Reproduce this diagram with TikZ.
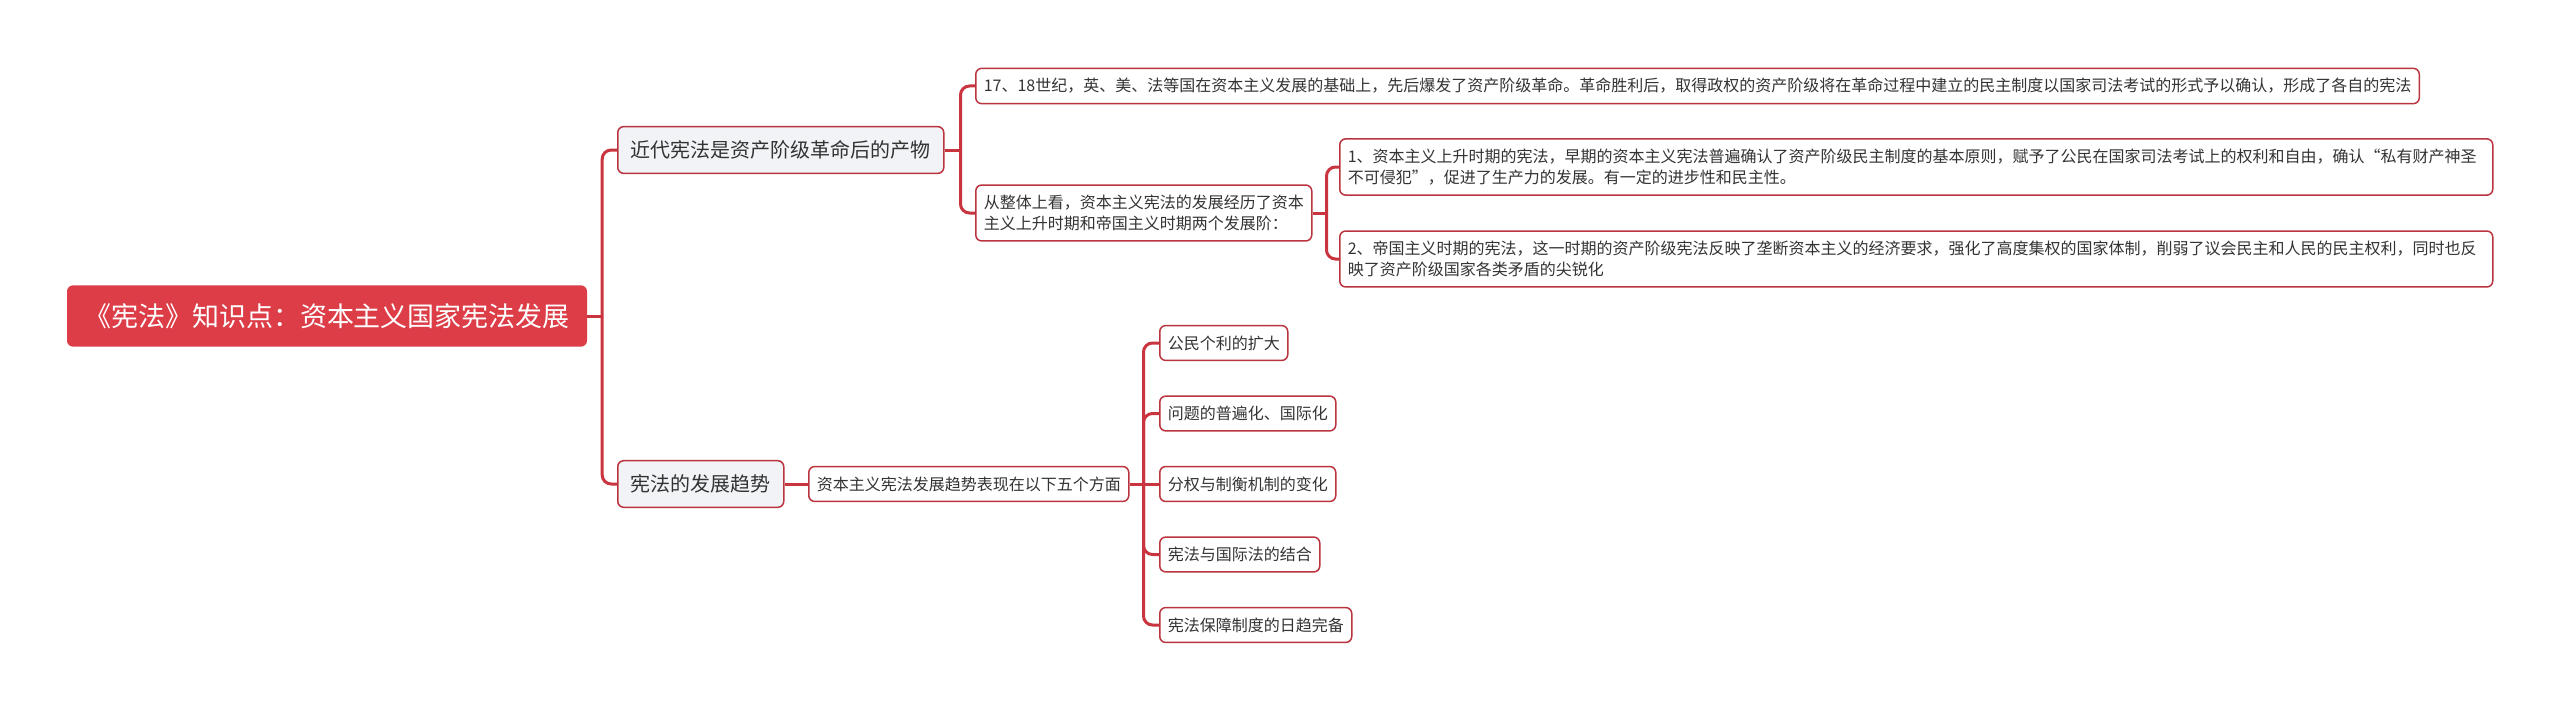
\documentclass[tikz,border=0pt]{standalone}
\usepackage{fontspec}
\setmainfont{Noto Sans CJK SC}
\usetikzlibrary{positioning,backgrounds}
\definecolor{mapred}{HTML}{DC3D47}
\definecolor{linkred}{HTML}{C9343F}
\definecolor{boxred}{HTML}{B9343E}
\definecolor{topicgray}{HTML}{F1F3F6}
\definecolor{inkgray}{HTML}{333333}
\begin{document}
\begin{tikzpicture}
[x=1pt,y=-1pt,node distance=70.5pt,on grid,
every node/.style={text=inkgray,font=\fontsize{16}{21}\selectfont},
central topic/.style={fill=mapred,text=white,rounded corners=6pt,inner xsep=17pt,inner ysep=18pt,
  font=\fontsize{27}{32}\selectfont},
main topic/.style={draw=boxred,line width=1.5pt,fill=topicgray,rounded corners=6pt,
  inner xsep=13pt,inner ysep=14pt,font=\fontsize{20}{24}\selectfont},
sub topic/.style={draw=boxred,line width=1.5pt,fill=white,rounded corners=6pt,
  inner xsep=8pt,inner ysep=10pt,align=left},
link/.style={draw=linkred,line width=3pt,rounded corners=9pt}]
\useasboundingbox (0,0) rectangle (2560,709);
\node [central topic] (root) at (327,316) {《宪法》知识点：资本主义国家宪法发展};
\node [main topic,anchor=west] (modern) at (617,150) {近代宪法是资产阶级革命后的产物};
\node [main topic,anchor=west] (trend) at (617,484) {宪法的发展趋势};
% first branch
\node [sub topic,anchor=west] (origin) at (975,86)
{17、18世纪，英、美、法等国在资本主义发展的基础上，先后爆发了资产阶级革命。革命胜利后，取得政权的资产阶级将在革命过程中建立的民主制度以国家司法考试的形式予以确认，形成了各自的宪法};
\node [sub topic,anchor=west] (stages) at (975,213)
{从整体上看，资本主义宪法的发展经历了资本\\主义上升时期和帝国主义时期两个发展阶：};
\node [sub topic,anchor=west,text width=1137pt] (rising) at (1339,167)
{1、资本主义上升时期的宪法，早期的资本主义宪法普遍确认了资产阶级民主制度的基本原则，赋予了公民在国家司法考试上的权利和自由，确认“私有财产神圣\\不可侵犯”，促进了生产力的发展。有一定的进步性和民主性。};
\node [sub topic,anchor=west,text width=1137pt] (imperial) at (1339,259)
{2、帝国主义时期的宪法，这一时期的资产阶级宪法反映了垄断资本主义的经济要求，强化了高度集权的国家体制，削弱了议会民主和人民的民主权利，同时也反\\映了资产阶级国家各类矛盾的尖锐化};
% second branch
\node [sub topic,anchor=west] (aspects) at (808,484) {资本主义宪法发展趋势表现在以下五个方面};
\node [sub topic,anchor=west] (rights) at (1159,343) {公民个利的扩大};
\node [sub topic] (global) [below=of rights.west,anchor=west] {问题的普遍化、国际化};
\node [sub topic] (powers) [below=of global.west,anchor=west] {分权与制衡机制的变化};
\node [sub topic] (intl) [below=of powers.west,anchor=west] {宪法与国际法的结合};
\node [sub topic] (review) [below=of intl.west,anchor=west] {宪法保障制度的日趋完备};
\begin{scope}[on background layer]
\draw [link] (root.east) -- ++(15,0) coordinate (root fork);
\draw [link] (modern.west) -| (root fork);
\draw [link] (trend.west) -| (root fork);
\draw [link] (modern.east) -- ++(16,0) coordinate (modern fork);
\draw [link] (origin.west) -| (modern fork);
\draw [link] (stages.west) -| (modern fork);
\draw [link] (stages.east) -- ++(14,0) coordinate (stages fork);
\draw [link] (rising.west) -| (stages fork);
\draw [link] (imperial.west) -| (stages fork);
\draw [link] (trend.east) -- (aspects.west);
\draw [link] (aspects.east) -- ++(14,0) coordinate (aspects fork);
\draw [link] (rights.west) -| (aspects fork);
\draw [link] (global.west) -| (aspects fork);
\draw [link] (powers.west) -- (aspects fork);
\draw [link] (intl.west) -| (aspects fork);
\draw [link] (review.west) -| (aspects fork);
\end{scope}
\end{tikzpicture}
\end{document}
